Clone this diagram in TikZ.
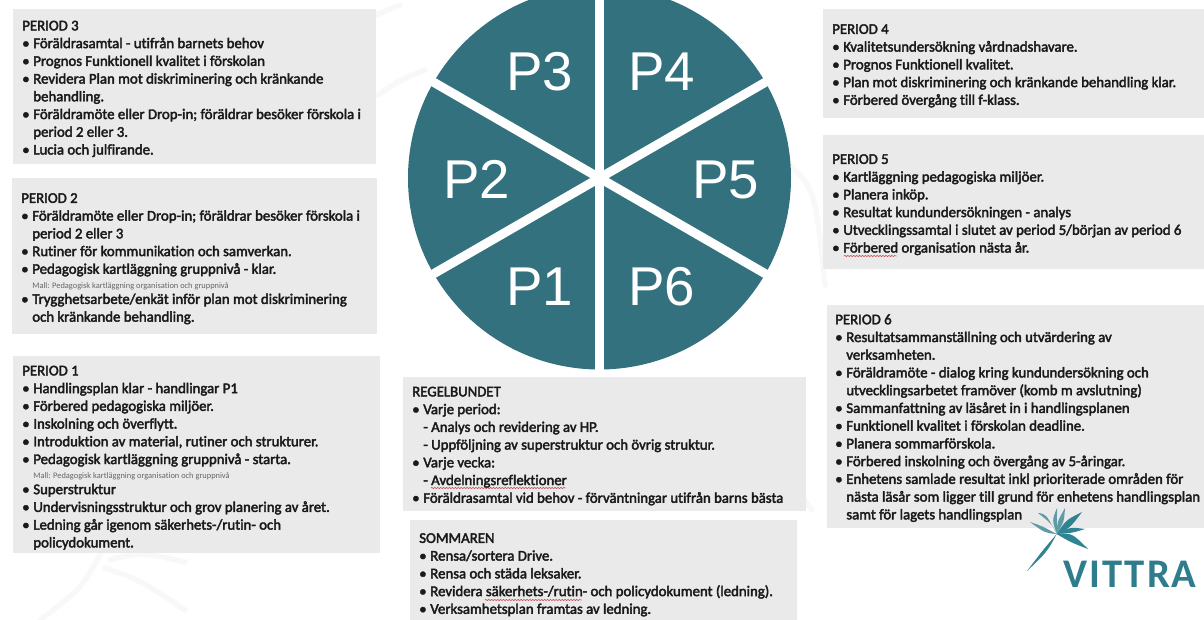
\documentclass[tikz,border=0pt]{standalone}
\usepackage{fontspec}
\setmainfont[Ligatures=CommonOff,AutoFakeBold=2.6]{Carlito}
\newfontfamily\arialf{Liberation Sans}
\newfontfamily\logof[LetterSpace=5]{Carlito}
\usetikzlibrary{decorations.pathmorphing}
\definecolor{teal1}{HTML}{33717F}
\definecolor{boxgrey}{HTML}{EAEAEA}
\definecolor{inkc}{HTML}{1A1A1A}
\definecolor{logoc}{HTML}{2F7C8C}
\definecolor{leafc}{HTML}{5E9BA6}
\definecolor{leafd}{HTML}{2E8490}
\definecolor{wmark}{HTML}{F8F8F8}
\newcommand{\bl}[1]{\makebox[8.3pt][l]{\fontsize{11}{11}\selectfont\raisebox{0pt}{\textbullet}}#1}
\newcommand{\cn}[1]{\hspace*{8.3pt}#1}
\newcommand{\mal}{\hspace*{8.3pt}{\fontsize{6.3}{7}\selectfont\mdseries\color{black!60}Mall: Pedagogisk kartläggning organisation och gruppnivå}}
\newcommand{\leaf}[5][leafc]{\fill[#1] (#2) .. controls (#3) .. (#4) .. controls (#5) .. cycle;}
\tikzset{
  x=0.75pt,y=-0.75pt,
  panel/.style={fill=boxgrey,draw=none},
  listtext/.style={anchor=north west,inner sep=0pt,align=left,text=inkc,font=\fontsize{11.1}{13.3}\selectfont\bfseries},
  plabel/.style={anchor=base west,inner sep=0pt,text=white,font=\arialf\fontsize{41}{42}\selectfont},
  squiggle/.style={draw=red!70!black,line width=0.35pt,decorate,decoration={snake,amplitude=0.35pt,segment length=2.2pt}},
  wleaf/.style={line width=4pt,draw=wmark,line cap=round}
}
\begin{document}
\begin{tikzpicture}
\useasboundingbox (0,0) rectangle (1204,620);
\clip (0,0) rectangle (1204,620);
\fill[white] (0,0) rectangle (1204,620);
% faint watermark
\draw[wleaf] (290,65) .. controls (340,30) .. (400,5);
\draw[wleaf] (378,95) .. controls (400,80) .. (425,70);
\draw[wleaf] (790,165) .. controls (815,190) .. (825,285);
\draw[wleaf] (700,385) .. controls (760,440) .. (812,510);
\draw[wleaf] (100,555) .. controls (80,590) .. (40,620);
\draw[wleaf] (105,568) .. controls (140,580) .. (185,610);
\draw[wleaf] (110,560) .. controls (140,552) .. (185,562);
% panels
\node[panel,anchor=north west,inner sep=0pt,minimum width=363pt*0.75,minimum height=155pt*0.75] (b3) at (12.5,9) {};
\node[panel,anchor=north west,inner sep=0pt,minimum width=365pt*0.75,minimum height=156pt*0.75] (b2) at (11.5,178) {};
\node[panel,anchor=north west,inner sep=0pt,minimum width=367pt*0.75,minimum height=197pt*0.75] (b1) at (13,356) {};
\node[panel,anchor=north west,inner sep=0pt,minimum width=403pt*0.75,minimum height=134pt*0.75] (br) at (403,377) {};
\node[panel,anchor=north west,inner sep=0pt,minimum width=387pt*0.75,minimum height=100pt*0.75] (bs) at (410,520) {};
\node[panel,anchor=north west,inner sep=0pt,minimum width=381pt*0.75,minimum height=109pt*0.75] (b4) at (823,9) {};
\node[panel,anchor=north west,inner sep=0pt,minimum width=381pt*0.75,minimum height=134pt*0.75] (b5) at (823,135) {};
\node[panel,anchor=north west,inner sep=0pt,minimum width=377pt*0.75,minimum height=223pt*0.75] (b6) at (827,305) {};
% pie
\coordinate (c) at (599.5,178);
\fill[teal1] (c) circle[radius=191.5*0.75pt];
\foreach \a in {30,90,150,210,270,330}
  \draw[white,line width=6.8pt] (c) -- ++(\a:146pt);
\node[plabel] (p3) at (506,91) {P3};
\node[plabel] (p4) at (628,91) {P4};
\node[plabel] (p2) at (443,199) {P2};
\node[plabel] (p5) at (692,199) {P5};
\node[plabel] (p1) at (506,306) {P1};
\node[plabel] (p6) at (628,306) {P6};
% texts
\node[listtext] (t3) at (22,20.5) {PERIOD 3\\
\bl{Föräldrasamtal - utifrån barnets behov}\\
\bl{Prognos Funktionell kvalitet i förskolan}\\
\bl{Revidera Plan mot diskriminering och kränkande}\\
\cn{behandling.}\\
\bl{Föräldramöte eller Drop-in; föräldrar besöker förskola i}\\
\cn{period 2 eller 3.}\\
\bl{Lucia och julfirande.}};
\node[listtext] (t2) at (21,193) {PERIOD 2\\
\bl{Föräldramöte eller Drop-in; föräldrar besöker förskola i}\\
\cn{period 2 eller 3}\\
\bl{Rutiner för kommunikation och samverkan.}\\
\bl{Pedagogisk kartläggning gruppnivå - klar.}\\[-2.4pt]
\mal\\[-1.6pt]
\bl{Trygghetsarbete/enkät inför plan mot diskriminering}\\
\cn{och kränkande behandling.}};
\node[listtext] (t1) at (22,365.5) {PERIOD 1\\
\bl{Handlingsplan klar - handlingar P1}\\
\bl{Förbered pedagogiska miljöer.}\\
\bl{Inskolning och överflytt.}\\
\bl{Introduktion av material, rutiner och strukturer.}\\
\bl{Pedagogisk kartläggning gruppnivå - starta.}\\[-2.4pt]
\mal\\[-1.6pt]
\bl{Superstruktur}\\
\bl{Undervisningsstruktur och grov planering av året.}\\
\bl{Ledning går igenom säkerhets-/rutin- och}\\
\cn{policydokument.}};
\node[listtext] (tr) at (412,386.5) {REGELBUNDET\\
\bl{Varje period:}\\
\cn{- Analys och revidering av HP.}\\
\cn{- Uppföljning av superstruktur och övrig struktur.}\\
\bl{Varje vecka:}\\
\cn{- Avdelningsreflektioner}\\
\bl{Föräldrasamtal vid behov - förväntningar utifrån barns bästa}};
\node[listtext] (ts) at (419,533) {SOMMAREN\\
\bl{Rensa/sortera Drive.}\\
\bl{Rensa och städa leksaker.}\\
\bl{Revidera säkerhets-/rutin- och policydokument (ledning).}\\
\bl{Verksamhetsplan framtas av ledning.}};
\node[listtext] (t4) at (832,24) {PERIOD 4\\
\bl{Kvalitetsundersökning vårdnadshavare.}\\
\bl{Prognos Funktionell kvalitet.}\\
\bl{Plan mot diskriminering och kränkande behandling klar.}\\
\bl{Förbered övergång till f-klass.}};
\node[listtext] (t5) at (832,154) {PERIOD 5\\
\bl{Kartläggning pedagogiska miljöer.}\\
\bl{Planera inköp.}\\
\bl{Resultat kundundersökningen - analys}\\
\bl{Utvecklingssamtal i slutet av period 5/början av period 6}\\
\bl{Förbered organisation nästa år.}};
\node[listtext] (t6) at (835,314) {PERIOD 6\\
\bl{Resultatsammanställning och utvärdering av}\\
\cn{verksamheten.}\\
\bl{Föräldramöte - dialog kring kundundersökning och}\\
\cn{utvecklingsarbetet framöver (komb m avslutning)}\\
\bl{Sammanfattning av läsåret in i handlingsplanen}\\
\bl{Funktionell kvalitet i förskolan deadline.}\\
\bl{Planera sommarförskola.}\\
\bl{Förbered inskolning och övergång av 5-åringar.}\\
\bl{Enhetens samlade resultat inkl prioriterade områden för}\\
\cn{nästa läsår som ligger till grund för enhetens handlingsplan}\\
\cn{samt för lagets handlingsplan}};
% spell-check squiggles
\draw[squiggle] (844,256) -- (897,256);
\draw[squiggle] (431,488) -- (566,488);
\draw[squiggle] (485,600) -- (582,600);
% logo
\coordinate (lc) at (1056.7,534);
\leaf[leafd]{lc}{1047,552}{1027,571}{1043,550}
\leaf{lc}{1045,533}{1030,522}{1042,526}
\leaf{lc}{1052,524}{1038,513}{1046,514}
\leaf{lc}{1052,520}{1057,508}{1057,518}
\leaf{lc}{1057,522}{1065,508}{1064,522}
\leaf[leafd]{lc}{1066,520}{1082,512}{1070,528}
\leaf[leafd]{lc}{1070,527}{1085,529}{1072,533}
\leaf[leafd]{lc}{1072,533}{1088,549}{1070,542}
\node[anchor=base west,inner sep=0pt,text=logoc,font=\logof\fontsize{30.5}{31}\selectfont\bfseries] (vittra) at (1063,587) {VITTRA};
\end{tikzpicture}
\end{document}
